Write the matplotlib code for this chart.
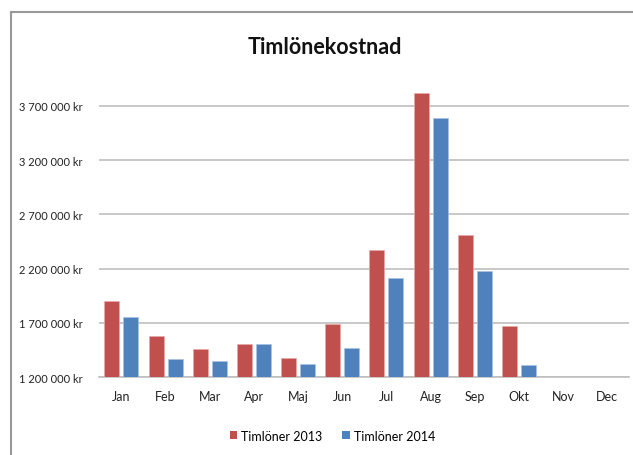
import matplotlib
matplotlib.use("Agg")
import matplotlib.pyplot as plt
from matplotlib.lines import Line2D
from matplotlib.patches import Patch
import numpy as np

months = ["Jan", "Feb", "Mar", "Apr", "Maj", "Jun", "Jul", "Aug", "Sep", "Okt", "Nov", "Dec"]
loner_2013 = [1904000, 1580000, 1460000, 1505000, 1375000, 1685000, 2374000, 3823000, 2513000, 1673000, np.nan, np.nan]
loner_2014 = [1750000, 1370000, 1350000, 1505000, 1320000, 1468000, 2113000, 3592000, 2174000, 1313000, np.nan, np.nan]
yticks = [1200000, 1700000, 2200000, 2700000, 3200000, 3700000]

FONT = ["Lato", "DejaVu Sans"]
RED = "#C0504D"
BLUE = "#4F81BD"

fig = plt.figure(figsize=(6.33, 4.56), dpi=100)
ax = fig.add_axes([0.157, 0.171, 0.837, 0.642])

x = np.arange(len(months))
w = 0.34
off = 0.215
ax.bar(x - off, loner_2013, width=w, color=RED, edgecolor="#e8a9a7", linewidth=0.5,
       zorder=3)
ax.bar(x + off, loner_2014, width=w, color=BLUE, edgecolor="#a9c3e3", linewidth=0.5,
       zorder=3)

ax.set_xlim(-0.5, len(months) - 0.5)
ax.set_ylim(1200000, 3900000)
ax.set_yticks(yticks)
ax.set_yticklabels([f"{v:,}".replace(",", " ") + " kr" for v in yticks],
                   fontfamily=FONT, fontsize=8, color="#222222")
ax.set_xticks(x)
ax.set_xticklabels(months, fontfamily=FONT, fontsize=9, color="#222222")
ax.tick_params(axis="both", length=0)
ax.tick_params(axis="y", pad=12)
ax.tick_params(axis="x", pad=9)
ax.grid(axis="y", color="#bfbfbf", linewidth=1.2, zorder=0)
for s in ["left", "right", "top"]:
    ax.spines[s].set_visible(False)
ax.spines["bottom"].set_color("#bfbfbf")
ax.spines["bottom"].set_linewidth(1.2)

fig.text(0.513, 0.896, "Timlönekostnad", ha="center", va="center",
         fontfamily=FONT, fontsize=15.5, fontweight="bold", color="#111111")

handles = [Patch(facecolor=RED, label="Timlöner 2013"),
           Patch(facecolor=BLUE, label="Timlöner 2014")]
fig.legend(handles=handles, loc="center", bbox_to_anchor=(0.525, 0.042), ncol=2,
           frameon=False, prop={"family": FONT, "size": 9},
           handlelength=0.6, handleheight=0.6, handletextpad=0.3, columnspacing=1.6)

# outer frame (left and top edges)
fig.add_artist(Line2D([0.0174, 0.0174], [0, 0.9715], color="#999999", linewidth=1.5,
                      transform=fig.transFigure))
fig.add_artist(Line2D([0.0174, 1.0], [0.9715, 0.9715], color="#999999", linewidth=1.5,
                      transform=fig.transFigure))

fig.savefig("out.png", dpi=100)
